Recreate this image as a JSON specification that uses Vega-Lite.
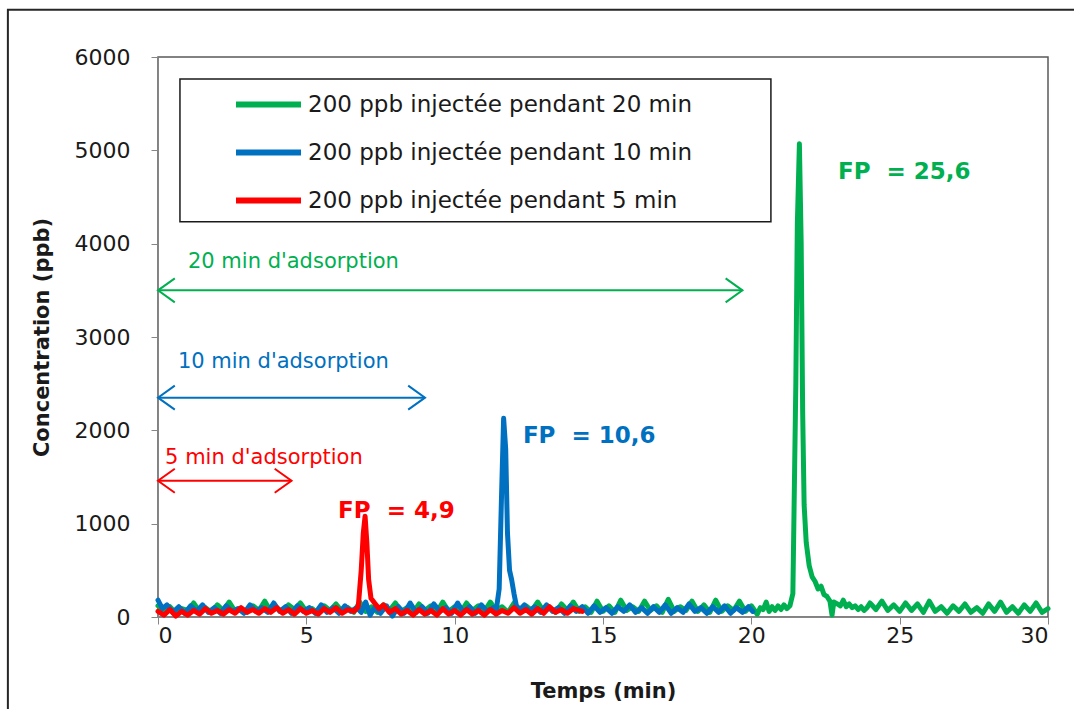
{
  "$schema": "https://vega.github.io/schema/vega-lite/v6.json",
  "autosize": "none",
  "width": 890,
  "height": 560,
  "padding": {"left": 158, "top": 57, "right": 26, "bottom": 92},
  "background": "white",
  "config": {
    "view": {"stroke": "#595959", "strokeWidth": 1.5},
    "font": "DejaVu Sans",
    "axis": {
      "grid": false,
      "domainColor": "#868686",
      "tickColor": "#868686",
      "tickSize": 7,
      "labelFont": "DejaVu Sans",
      "labelFontSize": 22,
      "labelColor": "#1a1a1a",
      "titleFont": "DejaVu Sans",
      "titleFontSize": 21,
      "titleFontWeight": "bold",
      "titleColor": "#1a1a1a"
    }
  },
  "datasets": {
    "g": [
      {"t":0,"c":120},{"t":0.2,"c":60},{"t":0.4,"c":110},{"t":0.6,"c":40},{"t":0.8,"c":90},{"t":1.0,"c":70},{"t":1.2,"c":150},{"t":1.4,"c":60},{"t":1.6,"c":100},{"t":1.8,"c":50},
      {"t":2.0,"c":130},{"t":2.2,"c":70},{"t":2.4,"c":160},{"t":2.6,"c":60},{"t":2.8,"c":90},{"t":3.0,"c":50},{"t":3.2,"c":120},{"t":3.4,"c":70},{"t":3.6,"c":170},{"t":3.8,"c":60},
      {"t":4.0,"c":100},{"t":4.2,"c":50},{"t":4.4,"c":130},{"t":4.6,"c":80},{"t":4.8,"c":150},{"t":5.0,"c":60},{"t":5.2,"c":90},{"t":5.4,"c":40},{"t":5.6,"c":120},{"t":5.8,"c":70},
      {"t":6.0,"c":140},{"t":6.2,"c":60},{"t":6.4,"c":100},{"t":6.6,"c":50},{"t":6.8,"c":160},{"t":7.0,"c":60},{"t":7.2,"c":110},{"t":7.4,"c":50},{"t":7.6,"c":130},{"t":7.8,"c":70},
      {"t":8.0,"c":150},{"t":8.2,"c":60},{"t":8.4,"c":100},{"t":8.6,"c":50},{"t":8.8,"c":140},{"t":9.0,"c":70},{"t":9.2,"c":120},{"t":9.4,"c":50},{"t":9.6,"c":160},{"t":9.8,"c":60},
      {"t":10.0,"c":110},{"t":10.2,"c":50},{"t":10.4,"c":150},{"t":10.6,"c":70},{"t":10.8,"c":120},{"t":11.0,"c":60},{"t":11.2,"c":160},{"t":11.4,"c":70},{"t":11.6,"c":110},{"t":11.8,"c":50},
      {"t":12.0,"c":150},{"t":12.2,"c":60},{"t":12.4,"c":120},{"t":12.6,"c":70},{"t":12.8,"c":160},{"t":13.0,"c":60},{"t":13.2,"c":100},{"t":13.4,"c":50},{"t":13.6,"c":140},{"t":13.8,"c":70},
      {"t":14.0,"c":160},{"t":14.2,"c":60},{"t":14.4,"c":110},{"t":14.6,"c":50},{"t":14.8,"c":170},{"t":15.0,"c":60},{"t":15.2,"c":120},{"t":15.4,"c":50},{"t":15.6,"c":180},{"t":15.8,"c":70},
      {"t":16.0,"c":110},{"t":16.2,"c":60},{"t":16.4,"c":170},{"t":16.6,"c":70},{"t":16.8,"c":120},{"t":17.0,"c":50},{"t":17.2,"c":190},{"t":17.4,"c":60},{"t":17.6,"c":110},{"t":17.8,"c":70},
      {"t":18.0,"c":170},{"t":18.2,"c":60},{"t":18.4,"c":130},{"t":18.6,"c":50},{"t":18.8,"c":180},{"t":19.0,"c":60},{"t":19.2,"c":120},{"t":19.4,"c":70},{"t":19.6,"c":170},{"t":19.8,"c":60},
      {"t":20.0,"c":120},{"t":20.2,"c":30},{"t":20.3,"c":100},{"t":20.4,"c":80},{"t":20.5,"c":160},{"t":20.6,"c":60},{"t":20.7,"c":110},{"t":20.8,"c":70},{"t":20.9,"c":120},{"t":21.0,"c":80},
      {"t":21.1,"c":130},{"t":21.2,"c":90},{"t":21.3,"c":120},{"t":21.4,"c":250},{"t":21.5,"c":2500},{"t":21.55,"c":4200},{"t":21.62,"c":5070},{"t":21.68,"c":4000},{"t":21.73,"c":2200},{"t":21.78,"c":1200},
      {"t":21.85,"c":800},{"t":21.95,"c":550},{"t":22.05,"c":430},{"t":22.15,"c":380},{"t":22.25,"c":300},{"t":22.35,"c":330},{"t":22.45,"c":240},{"t":22.55,"c":220},{"t":22.65,"c":170},{"t":22.72,"c":20},
      {"t":22.78,"c":160},{"t":22.9,"c":140},{"t":23.0,"c":120},{"t":23.1,"c":180},{"t":23.2,"c":110},{"t":23.3,"c":140},{"t":23.4,"c":100},{"t":23.5,"c":120},{"t":23.6,"c":80},{"t":23.7,"c":110},
      {"t":23.8,"c":70},{"t":23.9,"c":100},{"t":24.0,"c":150},{"t":24.2,"c":80},{"t":24.4,"c":170},{"t":24.6,"c":70},{"t":24.8,"c":130},{"t":25.0,"c":60},{"t":25.2,"c":150},{"t":25.4,"c":70},
      {"t":25.6,"c":140},{"t":25.8,"c":50},{"t":26.0,"c":170},{"t":26.2,"c":60},{"t":26.4,"c":110},{"t":26.6,"c":40},{"t":26.8,"c":120},{"t":27.0,"c":60},{"t":27.2,"c":140},{"t":27.4,"c":50},
      {"t":27.6,"c":100},{"t":27.8,"c":40},{"t":28.0,"c":140},{"t":28.2,"c":60},{"t":28.4,"c":160},{"t":28.6,"c":50},{"t":28.8,"c":110},{"t":29.0,"c":40},{"t":29.2,"c":130},{"t":29.4,"c":60},
      {"t":29.6,"c":150},{"t":29.8,"c":50},{"t":30.0,"c":90}
    ],
    "b": [
      {"t":0,"c":180},{"t":0.15,"c":90},{"t":0.3,"c":130},{"t":0.5,"c":50},{"t":0.7,"c":110},{"t":0.9,"c":40},{"t":1.1,"c":120},{"t":1.3,"c":60},{"t":1.5,"c":130},{"t":1.7,"c":50},
      {"t":1.9,"c":100},{"t":2.1,"c":40},{"t":2.3,"c":120},{"t":2.5,"c":60},{"t":2.7,"c":90},{"t":2.9,"c":40},{"t":3.1,"c":130},{"t":3.3,"c":60},{"t":3.5,"c":100},{"t":3.7,"c":50},
      {"t":3.9,"c":150},{"t":4.1,"c":60},{"t":4.3,"c":110},{"t":4.5,"c":40},{"t":4.7,"c":120},{"t":4.9,"c":60},{"t":5.1,"c":100},{"t":5.3,"c":40},{"t":5.5,"c":130},{"t":5.7,"c":50},
      {"t":5.9,"c":100},{"t":6.1,"c":40},{"t":6.3,"c":120},{"t":6.5,"c":60},{"t":6.7,"c":100},{"t":6.85,"c":50},{"t":7.0,"c":160},{"t":7.15,"c":20},{"t":7.3,"c":100},{"t":7.5,"c":40},
      {"t":7.7,"c":120},{"t":7.9,"c":10},{"t":8.1,"c":110},{"t":8.3,"c":40},{"t":8.5,"c":150},{"t":8.7,"c":50},{"t":8.9,"c":110},{"t":9.1,"c":40},{"t":9.3,"c":140},{"t":9.5,"c":60},
      {"t":9.7,"c":100},{"t":9.9,"c":40},{"t":10.1,"c":150},{"t":10.3,"c":50},{"t":10.5,"c":110},{"t":10.7,"c":40},{"t":10.9,"c":130},{"t":11.1,"c":60},{"t":11.3,"c":100},{"t":11.4,"c":70},
      {"t":11.5,"c":300},{"t":11.58,"c":1300},{"t":11.65,"c":2130},{"t":11.72,"c":1800},{"t":11.78,"c":900},{"t":11.85,"c":500},{"t":11.92,"c":400},{"t":12.0,"c":250},{"t":12.08,"c":120},{"t":12.2,"c":80},
      {"t":12.35,"c":130},{"t":12.5,"c":60},{"t":12.7,"c":110},{"t":12.9,"c":50},{"t":13.1,"c":130},{"t":13.3,"c":60},{"t":13.5,"c":100},{"t":13.7,"c":40},{"t":13.9,"c":120},{"t":14.1,"c":60},
      {"t":14.3,"c":110},{"t":14.5,"c":40},{"t":14.7,"c":120},{"t":14.9,"c":50},{"t":15.1,"c":100},{"t":15.3,"c":40},{"t":15.5,"c":110},{"t":15.7,"c":60},{"t":15.9,"c":130},{"t":16.1,"c":50},
      {"t":16.3,"c":100},{"t":16.5,"c":40},{"t":16.7,"c":110},{"t":16.9,"c":50},{"t":17.1,"c":130},{"t":17.3,"c":40},{"t":17.5,"c":100},{"t":17.7,"c":50},{"t":17.9,"c":140},{"t":18.1,"c":60},
      {"t":18.3,"c":100},{"t":18.5,"c":40},{"t":18.7,"c":110},{"t":18.9,"c":50},{"t":19.1,"c":120},{"t":19.3,"c":40},{"t":19.5,"c":100},{"t":19.7,"c":50},{"t":19.9,"c":110},{"t":20.05,"c":60}
    ],
    "r": [
      {"t":0,"c":60},{"t":0.2,"c":20},{"t":0.4,"c":80},{"t":0.6,"c":10},{"t":0.8,"c":60},{"t":1.0,"c":20},{"t":1.2,"c":70},{"t":1.4,"c":30},{"t":1.6,"c":90},{"t":1.8,"c":40},
      {"t":2.0,"c":70},{"t":2.2,"c":30},{"t":2.4,"c":80},{"t":2.6,"c":40},{"t":2.8,"c":100},{"t":3.0,"c":50},{"t":3.2,"c":80},{"t":3.4,"c":40},{"t":3.6,"c":90},{"t":3.8,"c":50},
      {"t":4.0,"c":100},{"t":4.2,"c":40},{"t":4.4,"c":80},{"t":4.6,"c":30},{"t":4.8,"c":90},{"t":5.0,"c":40},{"t":5.2,"c":70},{"t":5.4,"c":30},{"t":5.6,"c":90},{"t":5.8,"c":50},
      {"t":6.0,"c":100},{"t":6.2,"c":40},{"t":6.4,"c":80},{"t":6.6,"c":60},{"t":6.75,"c":110},{"t":6.85,"c":500},{"t":6.92,"c":900},{"t":6.98,"c":1080},{"t":7.04,"c":800},{"t":7.1,"c":400},
      {"t":7.18,"c":200},{"t":7.3,"c":150},{"t":7.45,"c":90},{"t":7.6,"c":130},{"t":7.8,"c":50},{"t":8.0,"c":90},{"t":8.2,"c":30},{"t":8.4,"c":70},{"t":8.6,"c":20},{"t":8.8,"c":80},
      {"t":9.0,"c":30},{"t":9.2,"c":70},{"t":9.4,"c":20},{"t":9.6,"c":90},{"t":9.8,"c":30},{"t":10.0,"c":70},{"t":10.2,"c":20},{"t":10.4,"c":80},{"t":10.6,"c":30},{"t":10.8,"c":70},
      {"t":11.0,"c":20},{"t":11.2,"c":80},{"t":11.4,"c":30},{"t":11.6,"c":70},{"t":11.8,"c":40},{"t":12.0,"c":100},{"t":12.2,"c":40},{"t":12.4,"c":80},{"t":12.6,"c":30},{"t":12.8,"c":90},
      {"t":13.0,"c":40},{"t":13.2,"c":110},{"t":13.4,"c":50},{"t":13.6,"c":80},{"t":13.8,"c":40},{"t":14.0,"c":90},{"t":14.3,"c":60}
    ],
    "arrows": [
      {"s":"20","start":0,"end":19.7,"y":3500},
      {"s":"10","start":0,"end":9.0,"y":2350},
      {"s":"5","start":0,"end":4.5,"y":1460}
    ],
    "notes": [
      {"s":"20","t":1.01,"y":3805,"label":"20 min d'adsorption"},
      {"s":"10","t":0.67,"y":2733,"label":"10 min d'adsorption"},
      {"s":"5","t":0.24,"y":1704,"label":"5 min d'adsorption"}
    ],
    "fp": [
      {"s":"20","t":22.92,"y":4770,"label":"FP\u00a0 = 25,6"},
      {"s":"10","t":12.3,"y":1940,"label":"FP\u00a0 = 10,6"},
      {"s":"5","t":6.07,"y":1136,"label":"FP\u00a0 = 4,9"}
    ],
    "box": [{"x1":0.74,"x2":20.66,"y1":4235,"y2":5765}],
    "frame": [{"x1":-5.06,"x2":31.5,"y1":-1500,"y2":6505}]
  },
  "layer": [
    {
      "data": {"name": "frame"},
      "mark": {"type": "rect", "fill": null, "stroke": "#262626", "strokeWidth": 2, "clip": false},
      "encoding": {
        "x": {"field": "x1", "type": "quantitative", "scale": {"domain": [0, 30], "nice": false, "zero": false}},
        "x2": {"field": "x2"},
        "y": {"field": "y1", "type": "quantitative", "scale": {"domain": [0, 6000], "nice": false, "zero": false}},
        "y2": {"field": "y2"}
      }
    },
    {
      "data": {"name": "box"},
      "mark": {"type": "rect", "fill": "white", "stroke": "#1a1a1a", "strokeWidth": 1.5},
      "encoding": {
        "x": {"field": "x1", "type": "quantitative"},
        "x2": {"field": "x2"},
        "y": {"field": "y1", "type": "quantitative"},
        "y2": {"field": "y2"}
      }
    },
    {
      "data": {"name": "g"},
      "mark": {"type": "line", "strokeWidth": 5, "strokeJoin": "round", "strokeCap": "round"},
      "encoding": {
        "x": {"field": "t", "type": "quantitative", "title": "Temps (min)",
          "axis": {"values": [0,5,10,15,20,25,30], "labelPadding": 1, "titlePadding": 34}},
        "y": {"field": "c", "type": "quantitative", "title": "Concentration (ppb)",
          "axis": {"values": [0,1000,2000,3000,4000,5000,6000], "format": "d", "labelPadding": 21, "titlePadding": 22}},
        "color": {"datum": "20", "type": "nominal", "title": null,
          "scale": {"domain": ["20", "10", "5"], "range": ["#00B050", "#0070C0", "#FF0000"]},
          "legend": {
            "orient": "none", "legendX": 75, "legendY": 12, "title": null,
            "symbolType": "stroke", "symbolStrokeWidth": 6, "symbolSize": 4225,
            "labelFont": "DejaVu Sans", "labelFontSize": 23, "labelColor": "#1a1a1a",
            "labelOffset": 4, "labelLimit": 700, "rowPadding": -17, "padding": 0,
            "labelExpr": "'200 ppb injectée pendant ' + datum.label + ' min'"
          }}
      }
    },
    {
      "data": {"name": "b"},
      "mark": {"type": "line", "strokeWidth": 5, "strokeJoin": "round", "strokeCap": "round"},
      "encoding": {
        "x": {"field": "t", "type": "quantitative"},
        "y": {"field": "c", "type": "quantitative"},
        "color": {"datum": "10", "type": "nominal", "title": null}
      }
    },
    {
      "data": {"name": "r"},
      "mark": {"type": "line", "strokeWidth": 5, "strokeJoin": "round", "strokeCap": "round"},
      "encoding": {
        "x": {"field": "t", "type": "quantitative"},
        "y": {"field": "c", "type": "quantitative"},
        "color": {"datum": "5", "type": "nominal", "title": null}
      }
    },
    {
      "data": {"name": "arrows"},
      "mark": {"type": "rule", "strokeWidth": 2},
      "encoding": {
        "x": {"field": "start", "type": "quantitative"},
        "x2": {"field": "end"},
        "y": {"field": "y", "type": "quantitative"},
        "color": {"field": "s", "type": "nominal", "title": null}
      }
    },
    {
      "data": {"name": "arrows"},
      "mark": {"type": "point", "shape": "M1.4,-1L0,0L1.4,1", "filled": false, "strokeWidth": 2, "size": 576, "opacity": 1},
      "encoding": {
        "x": {"field": "start", "type": "quantitative"},
        "y": {"field": "y", "type": "quantitative"},
        "color": {"field": "s", "type": "nominal", "title": null}
      }
    },
    {
      "data": {"name": "arrows"},
      "mark": {"type": "point", "shape": "M-1.4,-1L0,0L-1.4,1", "filled": false, "strokeWidth": 2, "size": 576, "opacity": 1},
      "encoding": {
        "x": {"field": "end", "type": "quantitative"},
        "y": {"field": "y", "type": "quantitative"},
        "color": {"field": "s", "type": "nominal", "title": null}
      }
    },
    {
      "data": {"name": "notes"},
      "mark": {"type": "text", "align": "left", "baseline": "middle", "font": "DejaVu Sans", "fontSize": 21},
      "encoding": {
        "x": {"field": "t", "type": "quantitative"},
        "y": {"field": "y", "type": "quantitative"},
        "text": {"field": "label"},
        "color": {"field": "s", "type": "nominal", "title": null}
      }
    },
    {
      "data": {"name": "fp"},
      "mark": {"type": "text", "align": "left", "baseline": "middle", "font": "DejaVu Sans", "fontSize": 23, "fontWeight": "bold"},
      "encoding": {
        "x": {"field": "t", "type": "quantitative"},
        "y": {"field": "y", "type": "quantitative"},
        "text": {"field": "label"},
        "color": {"field": "s", "type": "nominal", "title": null}
      }
    }
  ]
}
